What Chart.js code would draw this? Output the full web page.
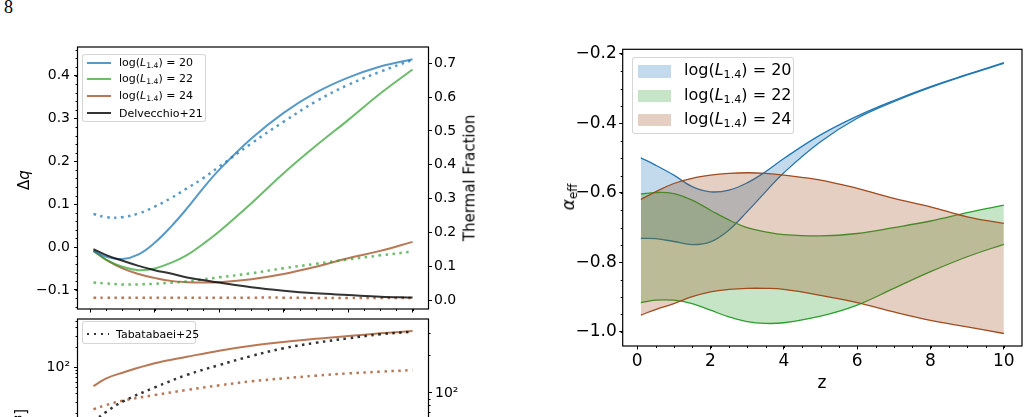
<!DOCTYPE html>
<html>
<head>
<meta charset="utf-8">
<title>figure 8</title>
<script src="https://cdn.jsdelivr.net/npm/chart.js@4.4.1/dist/chart.umd.min.js"></script>
<style>
  html, body { margin: 0; padding: 0; background: #fff; }
  body { position: relative; width: 1029px; height: 417px; overflow: hidden; font-family: "DejaVu Sans", sans-serif; color: #000; }
  canvas { position: absolute; }
  .t { position: absolute; white-space: nowrap; line-height: 1; }
  .rot { transform: translate(-50%, -50%) rotate(-90deg); }
  .mid { transform: translate(-50%, -50%); }
  .leg { position: absolute; box-sizing: border-box; background: rgba(255,255,255,0.8); border: 1px solid rgba(204,204,204,0.8); border-radius: 3px; }
  .leg .h { position: absolute; }
  .leg .x { position: absolute; white-space: nowrap; line-height: 1; transform: translateY(-50%); }
  .s { font-size: 0.7em; vertical-align: -0.25em; }
  .p { font-size: 0.7em; vertical-align: 0.45em; }
</style>
</head>
<body>
<div class="t" style="left:4px;top:-2px;font-family:'Liberation Serif',serif;font-size:18px;">8</div>

<canvas id="c1" width="480" height="280" style="left:0;top:40px"></canvas>
<canvas id="c3" width="480" height="160" style="left:0;top:312px"></canvas>
<canvas id="c2" width="469" height="377" style="left:560px;top:40px"></canvas>

<!-- axis titles -->
<div class="t rot" style="left:24px;top:180px;font-size:15px;">Δ<i>q</i></div>
<div class="t rot" style="left:470px;top:178px;font-size:15px;">Thermal Fraction</div>
<div class="t" style="left:21px;top:409px;font-size:15px;transform-origin:0 0;transform:rotate(-90deg) translate(-100%,-50%);">[Mpc<span class="p">−3</span>]</div>
<div class="t rot" style="left:570px;top:197px;font-size:17px;"><i>α</i><span class="s">eff</span></div>
<div class="t mid" style="left:822px;top:382px;font-size:17px;">z</div>

<!-- legends -->
<div class="leg" style="left:82px;top:54px;width:124px;height:68px;font-size:11px;">
  <div class="h" style="left:4px;top:6.7px;width:24px;height:2px;background:rgba(31,119,180,0.75)"></div>
  <div class="x" style="left:36px;top:7.7px">log(<i>L</i><span class="s">1.4</span>) = 20</div>
  <div class="h" style="left:4px;top:23.3px;width:24px;height:2px;background:rgba(44,160,44,0.7)"></div>
  <div class="x" style="left:36px;top:24.3px">log(<i>L</i><span class="s">1.4</span>) = 22</div>
  <div class="h" style="left:4px;top:40.3px;width:24px;height:2px;background:rgba(160,75,30,0.75)"></div>
  <div class="x" style="left:36px;top:41.3px">log(<i>L</i><span class="s">1.4</span>) = 24</div>
  <div class="h" style="left:4px;top:57px;width:24px;height:2px;background:rgba(0,0,0,0.8)"></div>
  <div class="x" style="left:36px;top:58px">Delvecchio+21</div>
</div>

<div class="leg" style="left:82px;top:320.5px;width:114px;height:23px;font-size:11px;">
  <div class="h" style="left:4px;top:11px;width:22px;height:2.5px;background:repeating-linear-gradient(90deg, rgba(0,0,0,0.8) 0 2.5px, transparent 2.5px 7px)"></div>
  <div class="x" style="left:33px;top:12px">Tabatabaei+25</div>
</div>

<div class="leg" style="left:632px;top:57px;width:162px;height:77px;font-size:16px;">
  <div class="h" style="left:4.7px;top:7px;width:33px;height:12.7px;background:rgba(31,119,180,0.27)"></div>
  <div class="x" style="left:51px;top:13.3px">log(<i>L</i><span class="s">1.4</span>) = 20</div>
  <div class="h" style="left:4.7px;top:31.5px;width:33px;height:12.7px;background:rgba(44,160,44,0.27)"></div>
  <div class="x" style="left:51px;top:37.8px">log(<i>L</i><span class="s">1.4</span>) = 22</div>
  <div class="h" style="left:4.7px;top:55.5px;width:33px;height:12.7px;background:rgba(160,75,30,0.27)"></div>
  <div class="x" style="left:51px;top:61.8px">log(<i>L</i><span class="s">1.4</span>) = 24</div>
</div>

<script>
Chart.defaults.font.family = "'DejaVu Sans', sans-serif";
Chart.defaults.color = '#000';

// redshift grids
const zGrid = [0.1, 0.5, 1, 1.5, 2, 2.5, 3, 3.5, 4, 5, 6, 7, 8, 9, 10];
const zLow = [0.1, 0.5, 1, 2, 3, 4, 5, 6, 7, 8, 9, 10];

// tick labels
const zTicks = [0, 2, 4, 6, 8, 10];
const dqTicks = [-0.1, 0, 0.1, 0.2, 0.3, 0.4];
const tfTicks = [0, 0.1, 0.2, 0.3, 0.4, 0.5, 0.6, 0.7];
const alphaTicks = [-1.0, -0.8, -0.6, -0.4, -0.2];
const logTicks = [100];

// top left: delta q (solid, left axis)
const dq20 = [-0.009, -0.023, -0.028, -0.017, 0.010, 0.047, 0.090, 0.137, 0.180, 0.253, 0.313, 0.360, 0.395, 0.421, 0.438];
const dq22 = [-0.009, -0.030, -0.046, -0.054, -0.050, -0.037, -0.019, 0.007, 0.036, 0.102, 0.172, 0.236, 0.296, 0.358, 0.414];
const dq24 = [-0.009, -0.030, -0.050, -0.063, -0.072, -0.079, -0.082, -0.083, -0.082, -0.075, -0.063, -0.046, -0.026, -0.009, 0.012];
const dqD21 = [-0.005, -0.019, -0.032, -0.044, -0.054, -0.062, -0.071, -0.077, -0.083, -0.094, -0.102, -0.108, -0.112, -0.116, -0.118];
// thermal fraction (dotted, right axis)
const tf20 = [0.254, 0.245, 0.245, 0.256, 0.276, 0.301, 0.330, 0.360, 0.394, 0.463, 0.527, 0.587, 0.636, 0.675, 0.710];
const tf22 = [0.052, 0.049, 0.046, 0.046, 0.048, 0.051, 0.055, 0.061, 0.067, 0.079, 0.094, 0.107, 0.120, 0.132, 0.143];
const tf24 = [0.007, 0.007, 0.007, 0.007, 0.007, 0.007, 0.007, 0.007, 0.007, 0.007, 0.007, 0.006, 0.006, 0.006, 0.006];

// bottom left (log axis, cut off)
const low24 = [51.5, 67.4, 82, 114, 143, 177, 210, 239, 268, 295, 324, 351];
const low24dot = [22.9, 26.6, 30.9, 37.6, 44.9, 52.8, 60.7, 67.3, 74, 80, 85, 90];
const tab25 = [15, 21, 29.8, 49, 76, 107, 147, 192, 233, 272, 313, 343];

// right: alpha_eff bands (lower / upper edge)
const a20lo = [-0.731, -0.732, -0.740, -0.749, -0.741, -0.707, -0.654, -0.597, -0.542, -0.453, -0.385, -0.337, -0.296, -0.260, -0.227];
const a20hi = [-0.499, -0.520, -0.549, -0.582, -0.597, -0.592, -0.571, -0.539, -0.501, -0.433, -0.379, -0.334, -0.294, -0.259, -0.225];
const a22lo = [-0.916, -0.909, -0.909, -0.919, -0.938, -0.957, -0.971, -0.976, -0.974, -0.955, -0.923, -0.875, -0.827, -0.784, -0.748];
const a22hi = [-0.603, -0.599, -0.602, -0.621, -0.650, -0.678, -0.700, -0.712, -0.720, -0.724, -0.717, -0.700, -0.681, -0.657, -0.635];
const a24lo = [-0.952, -0.936, -0.919, -0.899, -0.885, -0.878, -0.875, -0.875, -0.878, -0.895, -0.916, -0.943, -0.967, -0.986, -1.005];
const a24hi = [-0.619, -0.597, -0.573, -0.558, -0.549, -0.544, -0.542, -0.544, -0.549, -0.563, -0.587, -0.616, -0.640, -0.669, -0.688];

const blue = '31,119,180', green = '44,160,44', brown = '160,75,30';

function pts(xs, ys) {
  return xs.map((x, i) => ({x: x, y: ys[i]}));
}

function line(xs, ys, color, axis, dotted) {
  return {
    data: pts(xs, ys), yAxisID: axis, borderColor: color,
    borderWidth: dotted ? 2.5 : 2, borderDash: dotted ? [2.5, 4.5] : [],
    pointRadius: 0, tension: 0.4, fill: false
  };
}

function band(lo, hi, rgb) {
  return [
    {data: pts(zGrid, lo), borderColor: 'rgb(' + rgb + ')', borderWidth: 1.3, pointRadius: 0, tension: 0.4, fill: false},
    {data: pts(zGrid, hi), borderColor: 'rgb(' + rgb + ')', borderWidth: 1.3, pointRadius: 0, tension: 0.4,
     fill: '-1', backgroundColor: 'rgba(' + rgb + ',0.27)'}
  ];
}

const fmt1 = v => (v < 0 ? '\u2212' : '') + Math.abs(v).toFixed(1);

// axis with fixed size and only the wanted ticks
function axis(type, pos, min, max, ticks, fmt, size, box, pad, showLabels) {
  return {
    type: type, position: pos, min: min, max: max,
    grid: {drawOnChartArea: false, drawTicks: true, tickLength: 3.5, tickColor: '#000', tickWidth: 1},
    border: {display: false},
    ticks: {display: showLabels, color: '#000', font: {size: size}, padding: pad, callback: fmt, maxRotation: 0, autoSkip: false},
    afterBuildTicks: s => { s.ticks = ticks.map(v => ({value: v})); },
    afterFit: s => {
      if (s.isHorizontal()) s.height = box; else s.width = box;
      s.paddingTop = 0; s.paddingBottom = 0; s.paddingLeft = 0; s.paddingRight = 0;
    }
  };
}

// frame round the plot area plus minor tick marks
const frame = {
  id: 'frame',
  afterDraw(chart, args, opts) {
    const ctx = chart.ctx, a = chart.chartArea;
    ctx.save();
    ctx.strokeStyle = '#000';
    ctx.lineWidth = 1;
    (opts.minor || []).forEach(m => {
      const s = chart.scales[m.id];
      let vals = [];
      if (m.log) {
        for (let e = Math.floor(Math.log10(s.min)); e <= Math.ceil(Math.log10(s.max)); e++)
          for (let d = 2; d < 10; d++) vals.push(d * Math.pow(10, e));
      } else {
        for (let k = Math.ceil(s.min / m.step - 1e-9); k * m.step <= s.max + 1e-9; k++) vals.push(k * m.step);
      }
      vals.filter(v => v >= s.min && v <= s.max).forEach(v => {
        const p = Math.round(s.getPixelForValue(v)) + 0.5;
        ctx.beginPath();
        if (s.isHorizontal()) { ctx.moveTo(p, a.bottom); ctx.lineTo(p, a.bottom + 2); }
        else if (s.position === 'left') { ctx.moveTo(a.left, p); ctx.lineTo(a.left - 2, p); }
        else { ctx.moveTo(a.right, p); ctx.lineTo(a.right + 2, p); }
        ctx.stroke();
      });
    });
    ctx.lineWidth = 1.2;
    ctx.strokeRect(a.left, a.top, a.right - a.left, a.bottom - a.top);
    ctx.restore();
  }
};

function base(padding, minor) {
  return {
    responsive: false, animation: false, events: [],
    layout: {padding: padding},
    plugins: {legend: {display: false}, tooltip: {enabled: false}, frame: {minor: minor}}
  };
}

// top left panel
let opt1 = base({top: 7, left: 0, right: 0, bottom: 0}, [{id: 'x', step: 0.5}, {id: 'y', step: 0.02}]);
opt1.scales = {
  x: axis('linear', 'bottom', -0.395, 10.495, zTicks, v => String(v), 14, 11, 3, false),
  y: axis('linear', 'left', -0.1446, 0.4666, dqTicks, fmt1, 14, 77.5, 4, true),
  y2: axis('linear', 'right', -0.0266, 0.748, tfTicks, fmt1, 14, 51.5, 2, true)
};
new Chart(document.getElementById('c1'), {
  type: 'line',
  data: {datasets: [
    line(zGrid, dqD21, 'rgba(0,0,0,0.8)', 'y', false),
    line(zGrid, dq20, 'rgba(' + blue + ',0.75)', 'y', false),
    line(zGrid, tf20, 'rgba(' + blue + ',0.75)', 'y2', true),
    line(zGrid, dq22, 'rgba(' + green + ',0.7)', 'y', false),
    line(zGrid, tf22, 'rgba(' + green + ',0.7)', 'y2', true),
    line(zGrid, dq24, 'rgba(' + brown + ',0.75)', 'y', false),
    line(zGrid, tf24, 'rgba(' + brown + ',0.75)', 'y2', true)
  ]},
  options: opt1,
  plugins: [frame]
});

// bottom left panel (log scale, runs off the page)
let opt3 = base({top: 7, left: 0, right: 0, bottom: 21}, [{id: 'y', log: true}, {id: 'y2', log: true}]);
opt3.scales = {
  x: {type: 'linear', display: false, min: -0.395, max: 10.495},
  y: axis('logarithmic', 'left', 5.34, 534, logTicks, v => '10²', 14, 77.5, 4, true),
  y2: axis('logarithmic', 'right', 34.6, 386, logTicks, v => '10²', 14, 51.5, 3, true)
};
new Chart(document.getElementById('c3'), {
  type: 'line',
  data: {datasets: [
    line(zLow, tab25, 'rgba(0,0,0,0.8)', 'y', true),
    line(zLow, low24, 'rgba(' + brown + ',0.75)', 'y', false),
    line(zLow, low24dot, 'rgba(' + brown + ',0.75)', 'y', true)
  ]},
  options: opt3,
  plugins: [frame]
});

// right panel
let opt2 = base({top: 9.3, left: 0, right: 7, bottom: 0}, [{id: 'x', step: 0.5}, {id: 'y', step: 0.05}]);
opt2.scales = {
  x: axis('linear', 'bottom', -0.395, 10.495, zTicks, v => String(v), 17, 71, 2, true),
  y: axis('linear', 'left', -1.041, -0.1865, alphaTicks, fmt1, 17, 62.7, 2.5, true)
};
new Chart(document.getElementById('c2'), {
  type: 'line',
  data: {datasets: [].concat(band(a24lo, a24hi, brown), band(a22lo, a22hi, green), band(a20lo, a20hi, blue))},
  options: opt2,
  plugins: [frame]
});
</script>
</body>
</html>
